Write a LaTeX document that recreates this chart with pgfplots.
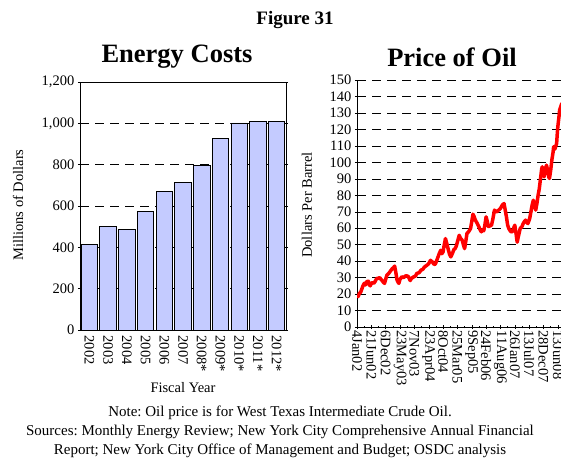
\documentclass[border=0pt]{standalone}
\usepackage{fontspec}
\setmainfont{Liberation Serif}
\usepackage{pgfplots}
\pgfplotsset{compat=1.18}

\definecolor{barblue}{RGB}{196,203,255}
\definecolor{oilred}{RGB}{255,0,0}

\newcommand{\tickfont}{\fontsize{14.5}{15}\selectfont}
\newcommand{\labfont}{\fontsize{14.5}{16}\selectfont}

\begin{document}
\frenchspacing
\begin{tikzpicture}[x=1pt,y=1pt]
\path[use as bounding box] (0,0) rectangle (561,458);
\clip (0,0) rectangle (561,458);

% titles
\node[font=\bfseries\fontsize{19}{21}\selectfont] at (295,438) {Figure 31};
\node[font=\bfseries\fontsize{26.5}{28}\selectfont] at (177,401) {Energy Costs};
\node[font=\bfseries\fontsize{26.5}{28}\selectfont] at (452,401) {Price of Oil};

% energy costs
\begin{axis}[
  at={(80pt,128pt)}, anchor=south west,
  scale only axis, width=206pt, height=248pt,
  ybar, bar width=16.5pt,
  xmin=-0.5, xmax=10.5,
  ymin=0, ymax=1200,
  ytick={0,200,...,1200},
  xtick={0,...,10},
  xticklabels={2002,2003,2004,2005,2006,2007,2008*,2009*,2010*,2011*,2012*},
  x tick label style={rotate=-90, anchor=west, font=\tickfont},
  y tick label style={font=\tickfont},
  /pgf/number format/assume math mode=true,
  /pgf/number format/1000 sep={,},
  xtick style={draw=none},
  ytick style={black, thin},
  tick align=center,
  ymajorgrids,
  major grid style={black, dash pattern=on 9pt off 6pt},
  axis line style={black, thin},
]
\addplot[draw=black, fill=barblue, line width=0.8pt] coordinates {
(0,415) (1,500) (2,486) (3,573) (4,671) (5,716) (6,797) (7,928) (8,1002) (9,1009) (10,1009)
};
\end{axis}

\node[font=\labfont] at (183,70) {Fiscal Year};
\node[font=\labfont, rotate=90] at (18,253) {Millions of Dollars};

% price of oil
\begin{axis}[
  at={(357pt,131pt)}, anchor=south west,
  scale only axis, width=205pt, height=247pt,
  xmin=0, xmax=343,
  ymin=0, ymax=150,
  ytick={0,10,...,150},
  xtick={0,24,...,336},
  minor x tick num=1,
  xticklabels={4Jan02,21Jun02,6Dec02,23May03,7Nov03,23Apr04,8Oct04,25Mar05,9Sep05,24Feb06,11Aug06,26Jan07,13Jul07,28Dec07,13Jun08},
  x tick label style={rotate=-90, anchor=west, font=\tickfont, inner xsep=1pt},
  y tick label style={font=\tickfont},
  /pgf/number format/assume math mode=true,
  axis x line*=bottom, axis y line*=left,
  tick align=center,
  tick style={black, thin},
  ymajorgrids,
  major grid style={black, dash pattern=on 9pt off 6pt},
  axis line style={black, thin, -},
]
\addplot[oilred, line width=3.5pt, line join=round] coordinates {
(0,19.5) (2,18.5) (4,20.5) (6,21) (8,23) (10,25) (12,26.5) (14,25.5) (16,27.5) (19,27.8) (20,26) (22,25) (24,26.5)
(26,27) (28,26.5) (30,27.5) (33,29.5) (35,29.5) (38,30) (40,29) (42,28.2) (44,27.2) (46,26.5) (48,29)
(50,31.5) (53,32.5) (56,34) (59,35.5) (61,36) (63,37) (65,33) (67,28.5) (69,27) (70,26.5) (72,29)
(75,30.5) (78,30) (81,31) (84,31) (86,30.5) (89,28.2) (91,29.5) (95,30.5) (98,31) (100,32.5) (104,33)
(107,34.5) (110,35) (113,36.5) (117,37.5) (120,38.5) (123,40.5) (126,39.5) (129,38) (131,38.2) (134,41)
(137,44) (140,46.6) (142,44.5) (144,45.6) (146,50) (148,53.7) (150,51) (153,46.6) (155,44) (157,42.6)
(160,45) (162,47) (164,47.6) (166,49) (169,53) (171,55.7) (173,54) (176,52.7) (178,50) (180,47.6)
(182,52) (184,56.8) (187,58) (190,59.8) (192,64) (194,68.5) (196,67) (198,64.9) (201,63) (204,60.8)
(206,59) (208,57.8) (210,59) (212,58.4) (214,62) (216,66.9) (218,64) (220,61) (223,61.5) (225,61.8)
(227,65) (230,71) (232,70) (234,70) (237,71) (240,72) (243,74) (246,75) (248,71) (250,66.9) (252,62)
(254,59.8) (257,58) (260,57.8) (262,60) (264,61.8) (266,57) (268,51.5) (270,55) (273,59.8) (276,61)
(278,62.8) (280,64) (282,64.9) (284,63.5) (286,62.8) (289,66) (291,70) (293,74) (295,77) (297,74)
(299,71) (301,75) (303,80) (305,84) (307,90) (309,96) (310,97.3) (312,93) (313,91.2) (315,95)
(317,98.3) (319,95) (321,91) (322,90.2) (324,95) (326,101.4) (328,106) (329,109.5) (331,108)
(334,111.5) (335,117) (336,121.6) (338,128) (339,131.8) (341,134) (343,136)
};
\end{axis}

\node[font=\labfont, rotate=90] at (307,253) {Dollars Per Barrel};

% notes
\node[font=\fontsize{15}{16}\selectfont] at (280,45) {Note: Oil price is for West Texas Intermediate Crude Oil.};
\node[font=\fontsize{15}{16}\selectfont] at (280,26) {Sources: Monthly Energy Review; New York City Comprehensive Annual Financial};
\node[font=\fontsize{15}{16}\selectfont] at (280,7) {Report; New York City Office of Management and Budget; OSDC analysis};
\end{tikzpicture}
\end{document}
